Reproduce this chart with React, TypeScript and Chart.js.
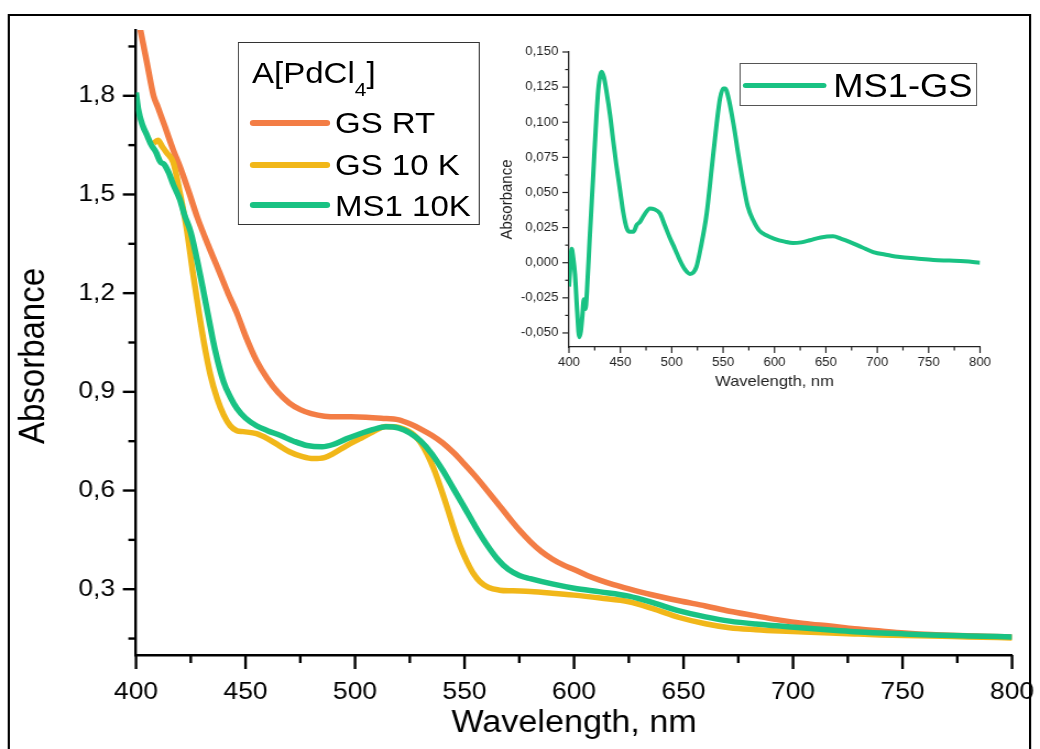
import React, { useEffect, useRef } from 'react';
import { Chart, registerables } from 'chart.js';

Chart.register(...registerables);

// ---------- data (wavelength in nm, absorbance) ----------
const GS_RT_WL = [400, 402, 405, 408, 410, 413, 417, 420, 424, 428, 433, 438, 442, 446, 450, 455, 460, 465, 470, 475, 480, 486, 492, 498, 505, 512, 520, 525, 530, 535, 540, 545, 550, 555, 560, 565, 570, 575, 580, 585, 590, 595, 600, 606, 612, 618, 625, 635, 648, 660, 671, 683, 694, 705, 717, 728, 740, 751, 763, 775, 787, 800];
const GS_RT_ABS = [2.07, 2.0, 1.9, 1.8, 1.765, 1.71, 1.635, 1.585, 1.51, 1.43, 1.345, 1.265, 1.2, 1.14, 1.07, 0.995, 0.94, 0.897, 0.866, 0.846, 0.834, 0.826, 0.824, 0.824, 0.823, 0.82, 0.815, 0.803, 0.787, 0.768, 0.745, 0.715, 0.68, 0.643, 0.603, 0.562, 0.52, 0.48, 0.445, 0.415, 0.392, 0.374, 0.36, 0.342, 0.327, 0.314, 0.301, 0.284, 0.265, 0.249, 0.233, 0.219, 0.206, 0.196, 0.188, 0.18, 0.173, 0.167, 0.162, 0.159, 0.157, 0.155];

const GS_10K_WL = [408, 410, 412, 414, 417, 420, 423, 426, 429, 431, 434, 437, 440, 443, 446, 449, 455, 460, 465, 470, 476, 481, 486, 490, 496, 502, 508, 514, 520, 524, 527, 530, 533, 536, 539, 542, 545, 548, 551, 554, 557, 561, 566, 572, 580, 590, 600, 612, 625, 636, 648, 660, 671, 683, 694, 705, 717, 728, 740, 751, 763, 780, 800];
const GS_10K_ABS = [1.655, 1.665, 1.645, 1.627, 1.597, 1.506, 1.4, 1.26, 1.13, 1.05, 0.95, 0.88, 0.83, 0.797, 0.782, 0.779, 0.773, 0.758, 0.738, 0.718, 0.703, 0.697, 0.7, 0.712, 0.736, 0.757, 0.778, 0.795, 0.792, 0.782, 0.768, 0.745, 0.71, 0.665, 0.61, 0.55, 0.487, 0.43, 0.385, 0.348, 0.323, 0.305, 0.297, 0.295, 0.293, 0.288, 0.282, 0.273, 0.262, 0.241, 0.214, 0.195, 0.183, 0.177, 0.173, 0.17, 0.167, 0.164, 0.161, 0.159, 0.158, 0.155, 0.152];

const MS1_10K_WL = [400, 401, 403, 405, 407, 409, 411, 413, 415, 417, 420, 422, 425, 429, 433, 436, 440, 443, 446, 450, 455, 460, 466, 472, 478, 485, 490, 496, 502, 508, 514, 520, 525, 530, 535, 540, 545, 550, 555, 560, 565, 570, 575, 580, 590, 600, 612, 625, 636, 648, 660, 671, 683, 694, 705, 717, 728, 740, 751, 763, 780, 800];
const MS1_10K_ABS = [1.81, 1.76, 1.71, 1.68, 1.65, 1.63, 1.6, 1.59, 1.565, 1.53, 1.485, 1.44, 1.385, 1.265, 1.13, 1.03, 0.93, 0.885, 0.85, 0.82, 0.797, 0.782, 0.767, 0.75, 0.737, 0.733, 0.74, 0.757, 0.772, 0.785, 0.794, 0.79, 0.775, 0.75, 0.712, 0.662, 0.605, 0.548, 0.49, 0.437, 0.392, 0.36, 0.342, 0.332, 0.316, 0.303, 0.292, 0.279, 0.259, 0.234, 0.216, 0.203, 0.194, 0.188, 0.182, 0.176, 0.171, 0.167, 0.164, 0.161, 0.158, 0.155];

const DIFF_WL = [400, 401, 402.6, 404, 405.8, 408, 410, 411.5, 413, 414.5, 416, 417.5, 420, 423.7, 426, 428.5, 431.8, 434, 436.7, 440, 443, 446, 449.6, 453, 456, 459, 462.6, 466, 469, 474, 478.8, 483, 488.6, 493, 498, 503, 508, 513, 517.8, 521, 524, 528, 534, 539, 543.7, 547, 550, 552, 555, 560, 565, 569.6, 574, 579.4, 585, 592, 600, 610, 618, 626, 634.5, 645, 657, 665, 673.5, 685, 696, 710, 722, 738, 754.6, 770, 785, 800];
const DIFF_ABS = [-0.017, -0.005, 0.01, 0.004, -0.008, -0.035, -0.053, -0.049, -0.038, -0.026, -0.033, -0.02, 0.015, 0.064, 0.095, 0.123, 0.136, 0.132, 0.121, 0.105, 0.087, 0.07, 0.052, 0.035, 0.025, 0.022, 0.022, 0.027, 0.029, 0.035, 0.0386, 0.038, 0.035, 0.027, 0.018, 0.01, 0.0016, -0.005, -0.008, -0.007, -0.003, 0.01, 0.035, 0.068, 0.099, 0.117, 0.124, 0.124, 0.118, 0.099, 0.076, 0.056, 0.04, 0.03, 0.023, 0.0195, 0.017, 0.015, 0.014, 0.0145, 0.016, 0.018, 0.0188, 0.017, 0.0147, 0.011, 0.0076, 0.0055, 0.004, 0.003, 0.002, 0.0015, 0.001, 0.0];

const SERIES_NAMES = ['GS RT', 'GS 10 K', 'MS1 10K'];
const SERIES_COLORS = ['#F37D45', '#F1B719', '#19C283'];
const INSET_NAME = 'MS1-GS';
const INSET_COLOR = '#19C283';
const LEGEND_TITLE = 'A[PdCl';
const LEGEND_TITLE_SUB = '4';
const MAIN_X_TITLE = 'Wavelength, nm';
const MAIN_Y_TITLE = 'Absorbance';

// ---------- ticks ----------
const MAIN_X_TICKS = [400, 425, 450, 475, 500, 525, 550, 575, 600, 625, 650, 675, 700, 725, 750, 775, 800];
const MAIN_X_LABELS = ['400', '', '450', '', '500', '', '550', '', '600', '', '650', '', '700', '', '750', '', '800'];
const MAIN_Y_TICKS = [0.15, 0.3, 0.45, 0.6, 0.75, 0.9, 1.05, 1.2, 1.35, 1.5, 1.65, 1.8, 1.95];
const MAIN_Y_LABELS = ['', '0,3', '', '0,6', '', '0,9', '', '1,2', '', '1,5', '', '1,8', ''];
const INSET_X_TICKS = MAIN_X_TICKS;
const INSET_X_LABELS = MAIN_X_LABELS;
const INSET_Y_TICKS = [-0.05, -0.0375, -0.025, -0.0125, 0, 0.0125, 0.025, 0.0375, 0.05, 0.0625, 0.075, 0.0875, 0.1, 0.1125, 0.125, 0.1375, 0.15];
const INSET_Y_LABELS = ['-0,050', '', '-0,025', '', '0,000', '', '0,025', '', '0,050', '', '0,075', '', '0,100', '', '0,125', '', '0,150'];

const FONT = "'Liberation Sans', Arial, sans-serif";
const LOGICAL_W = 945;
const H = 749;
const SX = 1040 / LOGICAL_W;

const toPoints = (xs: number[], ys: number[]) => xs.map((x, i) => ({ x, y: ys[i] }));

const noPad = (s: any) => {
  s.paddingLeft = 0;
  s.paddingRight = 0;
  s.paddingTop = 0;
  s.paddingBottom = 0;
};

const tickMarks = {
  id: 'tickMarks',
  afterDraw(chart: any, _args: any, opts: any) {
    const { ctx, chartArea } = chart;
    ctx.save();
    ctx.strokeStyle = opts.color;
    ctx.lineWidth = opts.width;
    ctx.lineCap = 'butt';
    const xs = chart.scales.x;
    xs.ticks.forEach((t: any) => {
      const p = xs.getPixelForValue(t.value);
      const len = t.label ? opts.xMajor : opts.xMinor;
      ctx.beginPath();
      ctx.moveTo(p, chartArea.bottom);
      ctx.lineTo(p, chartArea.bottom + len);
      ctx.stroke();
    });
    const ys = chart.scales.y;
    ys.ticks.forEach((t: any) => {
      const p = ys.getPixelForValue(t.value);
      const len = t.label ? opts.yMajor : opts.yMinor;
      ctx.beginPath();
      ctx.moveTo(chartArea.left, p);
      ctx.lineTo(chartArea.left - len, p);
      ctx.stroke();
    });
    if (opts.yTitle) {
      const t = opts.yTitle;
      ctx.fillStyle = t.color;
      ctx.font = `${t.size}px ${FONT}`;
      ctx.textAlign = 'center';
      ctx.textBaseline = 'middle';
      ctx.translate(t.x, (chartArea.top + chartArea.bottom) / 2 + t.shift);
      ctx.rotate(-Math.PI / 2);
      ctx.fillText(t.text, 0, 0);
    }
    ctx.restore();
  },
};

export default function App() {
  const mainRef = useRef<HTMLCanvasElement>(null);
  const insetRef = useRef<HTMLCanvasElement>(null);

  useEffect(() => {
    const seriesData = [
      toPoints(GS_RT_WL, GS_RT_ABS),
      toPoints(GS_10K_WL, GS_10K_ABS),
      toPoints(MS1_10K_WL, MS1_10K_ABS),
    ];
    const main = new Chart(mainRef.current as HTMLCanvasElement, {
      type: 'line',
      data: {
        datasets: seriesData.map((d, i) => ({
          label: SERIES_NAMES[i],
          data: d,
          borderColor: SERIES_COLORS[i],
          backgroundColor: SERIES_COLORS[i],
          borderWidth: 5.5,
          pointRadius: 0,
          cubicInterpolationMode: 'monotone' as const,
          borderJoinStyle: 'round' as const,
          order: 2 - i,
        })),
      },
      options: {
        responsive: false,
        animation: false,
        devicePixelRatio: 1,
        events: [],
        layout: { padding: { left: 0, top: 30, right: 25.4, bottom: 0 } },
        plugins: {
          legend: { display: false },
          tooltip: { enabled: false },
          tickMarks: {
            color: '#000', width: 2.4, xMajor: 14, xMinor: 8, yMajor: 12, yMinor: 7,
            yTitle: { text: MAIN_Y_TITLE, size: 33, color: '#000', x: 31.4, shift: 13.5 },
          },
        } as any,
        scales: {
          x: {
            type: 'linear',
            min: 400,
            max: 800,
            afterFit: (s: any) => { s.height = 94; noPad(s); },
            afterBuildTicks: (s: any) => { s.ticks = MAIN_X_TICKS.map((v) => ({ value: v })); },
            ticks: {
              callback: (_v: any, i: number) => MAIN_X_LABELS[i],
              autoSkip: false,
              maxRotation: 0,
              minRotation: 0,
              padding: 22.6,
              color: '#000',
              font: { family: FONT, size: 24 },
            },
            grid: { display: false, drawTicks: false },
            border: { display: true, color: '#000', width: 2.4 },
            title: {
              display: true,
              text: MAIN_X_TITLE,
              color: '#000',
              font: { family: FONT, size: 31 },
              padding: { top: 0, bottom: 7.4 },
            },
          },
          y: {
            type: 'linear',
            min: 0.1,
            max: 2.0,
            afterFit: (s: any) => { s.width = 123.6; noPad(s); },
            afterBuildTicks: (s: any) => { s.ticks = MAIN_Y_TICKS.map((v) => ({ value: v })); },
            ticks: {
              callback: (_v: any, i: number) => MAIN_Y_LABELS[i],
              autoSkip: false,
              padding: 19,
              color: '#000',
              font: { family: FONT, size: 24 },
            },
            grid: { display: false, drawTicks: false },
            border: { display: true, color: '#000', width: 2.4 },
            title: { display: false, text: MAIN_Y_TITLE },
          },
        },
      } as any,
      plugins: [tickMarks],
    });

    const inset = new Chart(insetRef.current as HTMLCanvasElement, {
      type: 'line',
      data: {
        datasets: [
          {
            label: INSET_NAME,
            data: toPoints(DIFF_WL, DIFF_ABS),
            borderColor: INSET_COLOR,
            backgroundColor: INSET_COLOR,
            borderWidth: 4,
            pointRadius: 0,
            cubicInterpolationMode: 'monotone' as const,
            borderJoinStyle: 'round' as const,
          },
        ],
      },
      options: {
        responsive: false,
        animation: false,
        devicePixelRatio: 1,
        events: [],
        layout: { padding: { left: 0, top: 17, right: 19.5, bottom: 0 } },
        plugins: {
          legend: { display: false },
          tooltip: { enabled: false },
          tickMarks: { color: '#222', width: 1.2, xMajor: 6, xMinor: 3.5, yMajor: 6, yMinor: 3.5 },
        } as any,
        scales: {
          x: {
            type: 'linear',
            min: 400,
            max: 800,
            afterFit: (s: any) => { s.height = 53; noPad(s); },
            afterBuildTicks: (s: any) => { s.ticks = INSET_X_TICKS.map((v) => ({ value: v })); },
            ticks: {
              callback: (_v: any, i: number) => INSET_X_LABELS[i],
              autoSkip: false,
              maxRotation: 0,
              minRotation: 0,
              padding: 8.8,
              color: '#222',
              font: { family: FONT, size: 12 },
            },
            grid: { display: false, drawTicks: false },
            border: { display: true, color: '#222', width: 1.3 },
            title: {
              display: true,
              text: 'Wavelength, nm',
              color: '#222',
              font: { family: FONT, size: 15 },
              padding: { top: 0, bottom: 9.5 },
            },
          },
          y: {
            type: 'linear',
            min: -0.06,
            max: 0.15,
            afterFit: (s: any) => { s.width = 67; noPad(s); },
            afterBuildTicks: (s: any) => { s.ticks = INSET_Y_TICKS.map((v) => ({ value: v })); },
            ticks: {
              callback: (_v: any, i: number) => INSET_Y_LABELS[i],
              autoSkip: false,
              padding: 9.7,
              color: '#222',
              font: { family: FONT, size: 12 },
            },
            grid: { display: false, drawTicks: false },
            border: { display: true, color: '#222', width: 1.3 },
            title: {
              display: true,
              text: 'Absorbance',
              color: '#222',
              font: { family: FONT, size: 15 },
              padding: { top: 1.4, bottom: 0 },
            },
          },
        },
      } as any,
      plugins: [tickMarks],
    });

    return () => {
      main.destroy();
      inset.destroy();
    };
  }, []);

  const legendLineTops = [120.3, 162, 202];
  const legendTextTops = [108, 149.5, 191];

  return (
    <div
      style={{
        position: 'absolute',
        left: 0,
        top: 0,
        width: LOGICAL_W,
        height: H,
        overflow: 'hidden',
        background: '#fff',
        transform: `scaleX(${SX})`,
        transformOrigin: '0 0',
        fontFamily: FONT,
        color: '#000',
      }}
    >
      {/* outer frame */}
      <div
        style={{
          position: 'absolute',
          left: 7.3,
          top: 14,
          width: 930,
          height: 800,
          border: '2px solid #000',
          boxSizing: 'border-box',
        }}
      />
      <canvas
        ref={mainRef}
        width={LOGICAL_W}
        height={H}
        style={{ position: 'absolute', left: 0, top: 0 }}
      />
      <canvas
        ref={insetRef}
        width={460}
        height={365}
        style={{ position: 'absolute', left: 450, top: 35 }}
      />

      {/* main legend */}
      <div
        style={{
          position: 'absolute',
          left: 216.3,
          top: 42,
          width: 219.9,
          height: 183,
          border: '1.5px solid #333',
          boxSizing: 'border-box',
        }}
      />
      <div
        style={{
          position: 'absolute',
          left: 229,
          top: 58,
          fontSize: 30,
          lineHeight: '30px',
          whiteSpace: 'nowrap',
        }}
      >
        {LEGEND_TITLE}
        <span style={{ fontSize: 19, verticalAlign: -13 }}>{LEGEND_TITLE_SUB}</span>]
      </div>
      {SERIES_NAMES.map((name, i) => (
        <React.Fragment key={name}>
          <div
            style={{
              position: 'absolute',
              left: 227.2,
              top: legendLineTops[i],
              width: 72.7,
              height: 6,
              borderRadius: 3,
              background: SERIES_COLORS[i],
            }}
          />
          <div
            style={{
              position: 'absolute',
              left: 304.4,
              top: legendTextTops[i],
              fontSize: 30,
              lineHeight: '30px',
              whiteSpace: 'nowrap',
            }}
          >
            {name}
          </div>
        </React.Fragment>
      ))}

      {/* inset legend */}
      <div
        style={{
          position: 'absolute',
          left: 671.5,
          top: 63,
          width: 216.3,
          height: 43,
          border: '1.2px solid #555',
          boxSizing: 'border-box',
        }}
      />
      <div
        style={{
          position: 'absolute',
          left: 675.1,
          top: 83,
          width: 76.3,
          height: 5,
          borderRadius: 2.5,
          background: INSET_COLOR,
        }}
      />
      <div
        style={{
          position: 'absolute',
          left: 757.1,
          top: 69,
          fontSize: 33,
          lineHeight: '33px',
          whiteSpace: 'nowrap',
        }}
      >
        {INSET_NAME}
      </div>
    </div>
  );
}
